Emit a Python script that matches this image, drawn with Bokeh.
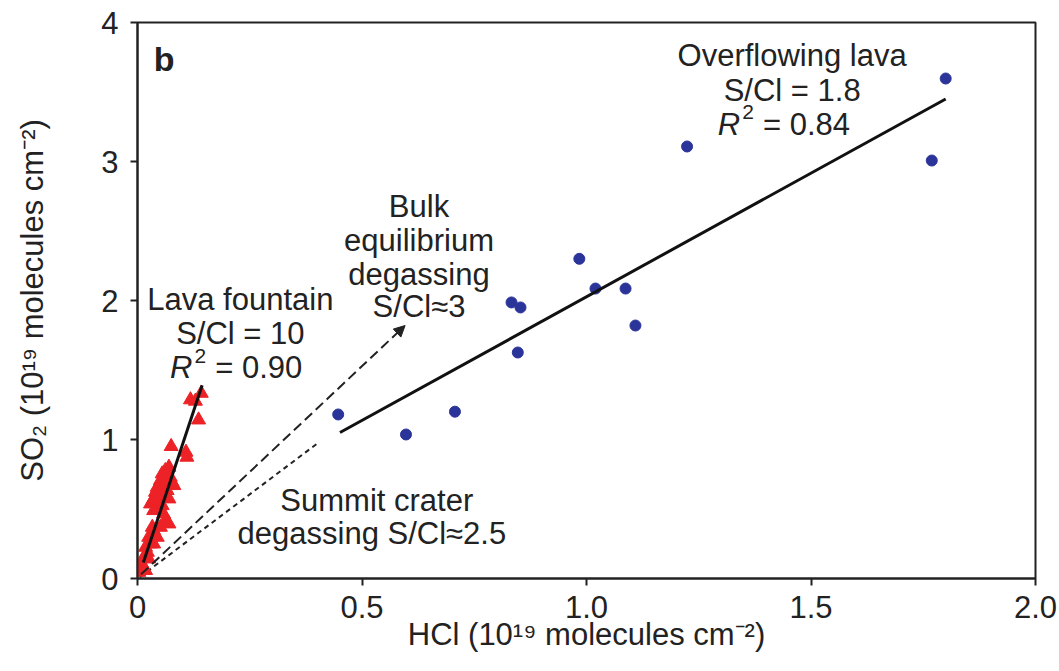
from bokeh.plotting import figure
from bokeh.models import FixedTicker, Label, Arrow, NormalHead
from bokeh.embed import file_html
from bokeh.resources import INLINE

# Overflowing lava (blue circles)
lava_hcl = [0.447, 0.598, 0.707, 0.833, 0.853, 0.847, 0.984, 1.020, 1.087, 1.109, 1.224, 1.769, 1.800]
lava_so2 = [1.18, 1.036, 1.20, 1.986, 1.95, 1.626, 2.30, 2.086, 2.086, 1.82, 3.108, 3.007, 3.597]

# Lava fountain (red triangles)
fount_hcl = [0.142, 0.118, 0.129, 0.136, 0.075, 0.108, 0.110, 0.070, 0.062, 0.055, 0.066, 0.073,
             0.051, 0.058, 0.077, 0.081, 0.044, 0.055, 0.066, 0.040, 0.047, 0.058, 0.036, 0.070,
             0.044, 0.029, 0.055, 0.036, 0.058, 0.062, 0.070, 0.051, 0.033, 0.036, 0.025, 0.044,
             0.029, 0.018, 0.036, 0.022, 0.014, 0.025, 0.010, 0.007, 0.018, 0.003]
fount_so2 = [1.333, 1.286, 1.276, 1.141, 0.950, 0.909, 0.873, 0.801, 0.777, 0.753, 0.753, 0.729,
             0.705, 0.681, 0.693, 0.669, 0.657, 0.645, 0.633, 0.621, 0.597, 0.585, 0.573, 0.573,
             0.549, 0.537, 0.525, 0.489, 0.465, 0.417, 0.393, 0.369, 0.369, 0.345, 0.297, 0.297,
             0.249, 0.225, 0.249, 0.189, 0.153, 0.141, 0.105, 0.070, 0.058, 0.045]

# Fit lines and reference ratios (endpoints)
lava_fit_x = [0.451, 1.800]
lava_fit_y = [1.05, 3.45]
fount_fit_x = [0.013, 0.144]
fount_fit_y = [0.115, 1.39]
bulk_x = [0.008, 0.596]
bulk_y = [0.03, 1.82]
summit_x = [0.005, 0.404]
summit_y = [0.01, 0.98]

x_ticks = [0, 0.5, 1.0, 1.5, 2.0]
x_tick_labels = ["0", "0.5", "1.0", "1.5", "2.0"]
y_ticks = [0, 1, 2, 3, 4]
y_tick_labels = ["0", "1", "2", "3", "4"]

FONT = "Liberation Sans"
FS = "31px"
INK = "#222222"

p = figure(width=1059, height=671, x_range=(0, 2.0), y_range=(0, 4),
           output_backend="svg", toolbar_location=None,
           min_border_left=137, min_border_right=24, min_border_top=22, min_border_bottom=93)
p.background_fill_color = "white"
p.border_fill_color = "white"
p.grid.visible = False
p.outline_line_color = INK
p.outline_line_width = 2

for ax, ticks, labels in ((p.xaxis[0], x_ticks, x_tick_labels), (p.yaxis[0], y_ticks, y_tick_labels)):
    ax.ticker = FixedTicker(ticks=ticks)
    ax.major_label_overrides = {t: l for t, l in zip(ticks, labels)}
    ax.minor_tick_line_color = None
    ax.major_tick_out = 7
    ax.major_tick_in = 0
    ax.major_tick_line_width = 2
    ax.axis_line_width = 2
    ax.axis_line_color = INK
    ax.major_tick_line_color = INK
    ax.major_label_text_font = FONT
    ax.major_label_text_font_size = FS
    ax.major_label_text_color = INK
    ax.axis_label_text_font = FONT
    ax.axis_label_text_font_size = FS
    ax.axis_label_text_font_style = "normal"
    ax.axis_label_text_color = INK

p.xaxis.axis_label = "HCl (10¹⁹ molecules cm⁻²)"
p.yaxis.axis_label = "SO₂ (10¹⁹ molecules cm⁻²)"
p.xaxis.major_label_standoff = 10
p.yaxis.major_label_standoff = 12
p.xaxis.axis_label_standoff = -4
p.yaxis.axis_label_standoff = 48

# reference ratio lines
p.line(summit_x, summit_y, line_color=INK, line_width=2, line_dash="5 4")
p.add_layout(Arrow(end=NormalHead(size=11, fill_color=INK, line_color=INK),
                   x_start=bulk_x[0], y_start=bulk_y[0], x_end=bulk_x[1], y_end=bulk_y[1],
                   line_color=INK, line_width=2, line_dash="10 5"))

# data
p.scatter(fount_hcl, fount_so2, marker="triangle", size=14, fill_color="#ec2227", line_color="#ec2227")
p.scatter(lava_hcl, lava_so2, marker="circle", size=11, fill_color="#2b3499", line_color="#2b3499")

# fits
p.line(fount_fit_x, fount_fit_y, line_color="#111111", line_width=3)
p.line(lava_fit_x, lava_fit_y, line_color="#111111", line_width=3)

def lab(x, y, text, align="center", style="normal", size=FS):
    p.add_layout(Label(x=x, y=y, text=text, text_align=align, text_baseline="middle",
                       text_font=FONT, text_font_size=size, text_font_style=style,
                       text_color=INK))

lab(0.036, 3.741, "b", align="left", style="bold", size="34px")

lab(1.458, 3.763, "Overflowing lava")
lab(1.458, 3.511, "S/Cl = 1.8")
lab(1.342, 3.266, "R", align="right", style="italic")
lab(1.347, 3.353, "2", align="left", size="21px")
lab(1.393, 3.266, "= 0.84", align="left")

lab(0.627, 2.676, "Bulk")
lab(0.627, 2.432, "equilibrium")
lab(0.627, 2.187, "degassing")
lab(0.627, 1.957, "S/Cl≈3")

lab(0.229, 2.007, "Lava fountain")
lab(0.229, 1.763, "S/Cl = 10")
lab(0.122, 1.518, "R", align="right", style="italic")
lab(0.127, 1.604, "2", align="left", size="21px")
lab(0.173, 1.518, "= 0.90", align="left")

lab(0.533, 0.561, "Summit crater")
lab(0.522, 0.324, "degassing S/Cl≈2.5")

open("out.html", "w").write(file_html(p, INLINE))
